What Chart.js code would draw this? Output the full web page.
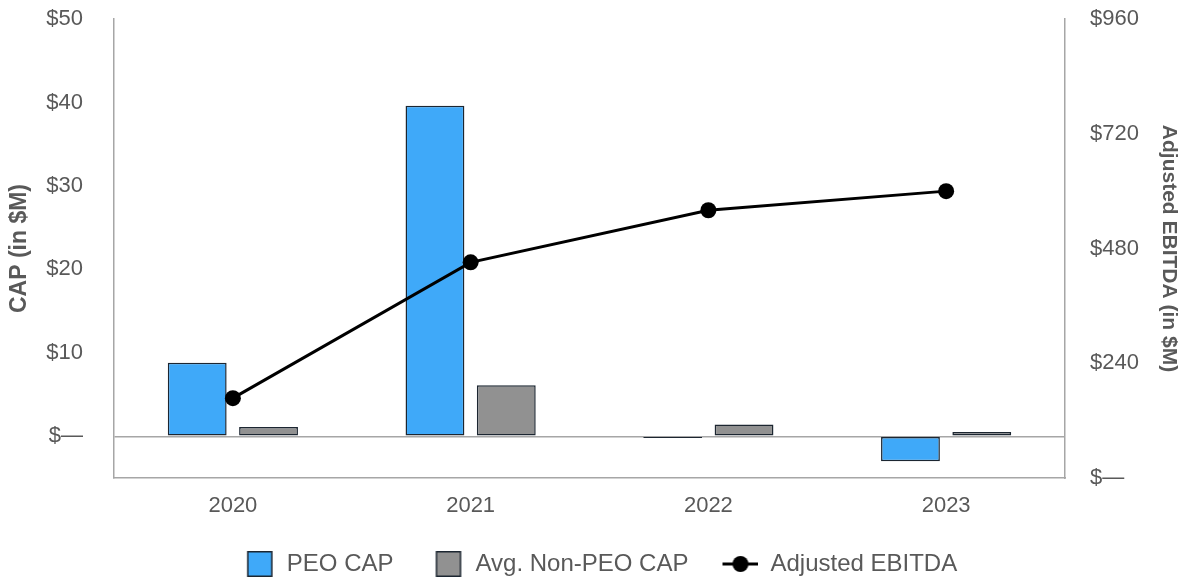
<!DOCTYPE html>
<html>
<head>
<meta charset="utf-8">
<script src="https://cdn.jsdelivr.net/npm/chart.js@4/dist/chart.umd.min.js"></script>
<style>
  html, body { margin: 0; padding: 0; background: #fff; }
  #wrap { width: 1185px; height: 583px; position: relative; }
</style>
</head>
<body>
<div id="wrap"><canvas id="c" width="1185" height="583"></canvas></div>
<script>
const years = ["2020", "2021", "2022", "2023"];
const peoCap = [8.8, 39.6, -0.2, -3.0];
const nonPeoCap = [1.1, 6.1, 1.4, 0.5];
const adjustedEbitda = [167, 451, 560, 600];
const capTicks = [-5, 0, 10, 20, 30, 40, 50];
const ebitdaTicks = [0, 240, 480, 720, 960];

const TEXT = '#595959';
const BLUE = '#3fa9f9';
const GRAY = '#919191';
const EDGE = '#1c2631';
const AXIS = '#a6a6a6';
const FONT = "'Liberation Sans', Arial, sans-serif";

const W = 47;
function boxImage(color) {
  const c = document.createElement('canvas');
  c.width = W; c.height = 26;
  const x = c.getContext('2d');
  x.fillStyle = color;
  x.fillRect(W - 27, 0.75, 24, 24.5);
  x.strokeStyle = EDGE; x.lineWidth = 1.5;
  x.strokeRect(W - 27, 0.75, 24, 24.5);
  return c;
}
function lineImage() {
  const c = document.createElement('canvas');
  c.width = W; c.height = 20;
  const x = c.getContext('2d');
  x.strokeStyle = '#000'; x.lineWidth = 3;
  x.beginPath(); x.moveTo(W - 36, 10); x.lineTo(W, 10); x.stroke();
  x.fillStyle = '#000';
  x.beginPath(); x.arc(W - 18, 10, 8, 0, Math.PI * 2); x.fill();
  return c;
}
const legendImgs = [boxImage(BLUE), boxImage(GRAY), lineImage()];

function money(v) { return v === 0 ? '$\u2014' : '$' + v; }
function noVertPad(s) { s.paddingTop = 0; s.paddingBottom = 0; }

new Chart(document.getElementById('c'), {
  data: {
    labels: years,
    datasets: [
      { type: 'bar', label: 'PEO CAP', data: peoCap, yAxisID: 'y',
        backgroundColor: BLUE, borderColor: EDGE, borderWidth: 1.5, borderSkipped: false,
        categoryPercentage: 0.6, barPercentage: 0.825, order: 1 },
      { type: 'bar', label: 'Avg. Non-PEO CAP', data: nonPeoCap, yAxisID: 'y',
        backgroundColor: GRAY, borderColor: EDGE, borderWidth: 1.5, borderSkipped: false,
        categoryPercentage: 0.6, barPercentage: 0.825, order: 1 },
      { type: 'line', label: 'Adjusted EBITDA', data: adjustedEbitda, yAxisID: 'y2',
        borderColor: '#000', backgroundColor: '#000', borderWidth: 3,
        pointRadius: 8, pointBackgroundColor: '#000', pointBorderWidth: 0,
        tension: 0, order: 0 }
    ]
  },
  options: {
    responsive: false,
    animation: false,
    layout: { padding: { top: 19, bottom: -3, left: 0, right: 0 } },
    plugins: {
      tooltip: { enabled: false },
      legend: {
        position: 'bottom',
        labels: {
          usePointStyle: true,
          pointStyleWidth: W,
          padding: 23,
          color: TEXT,
          font: { family: FONT, size: 24 },
          sort: (a, b) => a.datasetIndex - b.datasetIndex,
          generateLabels: (chart) => {
            const items = Chart.defaults.plugins.legend.labels.generateLabels(chart);
            items.forEach(it => { it.pointStyle = legendImgs[it.datasetIndex]; });
            return items;
          }
        }
      }
    },
    scales: {
      x: {
        grid: { display: false },
        border: { display: true, color: AXIS, width: 1.5 },
        ticks: { color: TEXT, font: { family: FONT, size: 22 }, padding: 7 },
        afterFit: (s) => { s.height = 51; }
      },
      y: {
        position: 'left',
        min: -5, max: 50,
        afterBuildTicks: (s) => { s.ticks = capTicks.map(v => ({ value: v })); },
        grid: {
          drawTicks: false,
          color: (ctx) => (ctx.tick && ctx.tick.value === 0) ? AXIS : 'rgba(0,0,0,0)',
          lineWidth: 1.5
        },
        border: { display: true, color: AXIS, width: 1.5 },
        ticks: {
          color: TEXT, font: { family: FONT, size: 22 }, padding: 31,
          callback: (v) => v === -5 ? '' : money(v)
        },
        title: {
          display: true, text: 'CAP (in $M)', color: TEXT,
          font: { family: FONT, size: 23, weight: 'bold' },
          padding: { top: 6, bottom: 0 }
        },
        afterFit: (s) => { s.width = 114; noVertPad(s); }
      },
      y2: {
        position: 'right',
        min: 0, max: 960,
        afterBuildTicks: (s) => { s.ticks = ebitdaTicks.map(v => ({ value: v })); },
        grid: { display: false, drawTicks: false },
        border: { display: true, color: AXIS, width: 1.5 },
        ticks: {
          color: TEXT, font: { family: FONT, size: 22 }, padding: 25,
          callback: (v) => money(v)
        },
        title: {
          display: true, text: 'Adjusted EBITDA (in $M)', color: TEXT,
          font: { family: FONT, size: 21, weight: 'bold' },
          padding: { top: 4, bottom: 0 }
        },
        afterFit: (s) => { s.width = 120; noVertPad(s); }
      }
    }
  }
});
</script>
</body>
</html>
